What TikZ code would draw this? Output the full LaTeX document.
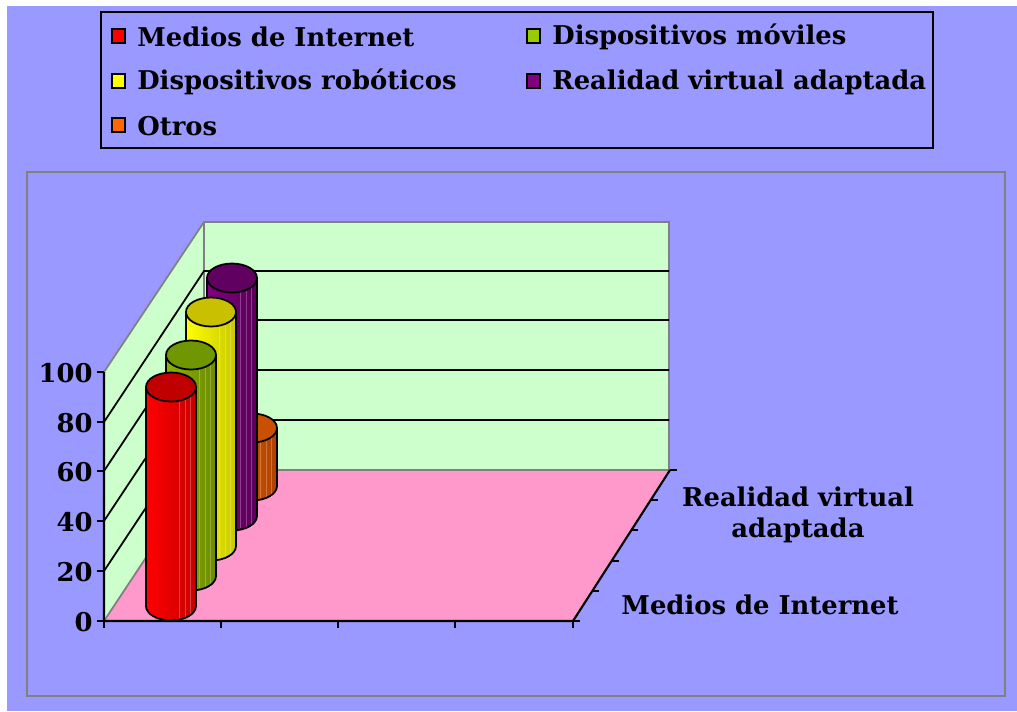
\documentclass[tikz,border=0pt]{standalone}
\usepackage{fontspec}
\setmainfont{DejaVu Serif}
\definecolor{bgblue}{HTML}{9999FF}
\definecolor{wallgreen}{HTML}{CCFFCC}
\definecolor{floorpink}{HTML}{FF99CC}
\definecolor{framegray}{HTML}{808080}
% series colours: legend, body left, body right, top
\definecolor{redL}{HTML}{FF0000}\definecolor{redA}{HTML}{FF0000}\definecolor{redB}{HTML}{C80000}\definecolor{redT}{HTML}{C00000}
\definecolor{greenL}{HTML}{99CC00}\definecolor{greenA}{HTML}{8CB000}\definecolor{greenB}{HTML}{6E8C00}\definecolor{greenT}{HTML}{709600}
\definecolor{yellowL}{HTML}{FFFF00}\definecolor{yellowA}{HTML}{FFFF00}\definecolor{yellowB}{HTML}{C8C800}\definecolor{yellowT}{HTML}{C8C000}
\definecolor{purpleL}{HTML}{800080}\definecolor{purpleA}{HTML}{800080}\definecolor{purpleB}{HTML}{5A005A}\definecolor{purpleT}{HTML}{600060}
\definecolor{orangeL}{HTML}{FF6600}\definecolor{orangeA}{HTML}{E06000}\definecolor{orangeB}{HTML}{B04000}\definecolor{orangeT}{HTML}{C85000}
\tikzset{
  lbl/.style={font=\fontsize{14.7}{18}\selectfont\bfseries, inner sep=0pt},
  legsq/.style={draw=black, line width=1pt},
  grid/.style={black, line width=1pt},
  edge/.style={framegray, line width=1pt}
}
% one column: center x, base y, top y, colour prefix
\newcommand{\colcyl}[4]{%
  \shade[left color=#4A, right color=#4B]
    (#1-25,#3) -- (#1-25,#2) arc[start angle=180, end angle=360, x radius=0.5cm, y radius=0.29cm]
    -- (#1+25,#3) -- cycle;
  \foreach \d in {8,14,19}
    \draw[white, opacity=0.25, line width=0.3pt] (#1+\d,#3) -- (#1+\d,#2+12);
  \draw[black, line width=1pt]
    (#1-25,#3) -- (#1-25,#2) arc[start angle=180, end angle=360, x radius=0.5cm, y radius=0.29cm]
    -- (#1+25,#3);
  \filldraw[fill=#4T, draw=black, line width=1pt] (#1,#3) ellipse [x radius=0.5cm, y radius=0.29cm];
}

\begin{document}
\begin{tikzpicture}[x=0.02cm, y=-0.02cm]
  % Background
  \fill[white] (0,0) rectangle (1017,711);
  \fill[bgblue] (7,6) rectangle (1017,711);
  \draw[framegray, line width=1.2pt] (27,172) rectangle (1005,696);

  % Legend
  \draw[black, line width=1.2pt] (101,12) rectangle (933,148);
  \filldraw[legsq, fill=redL] (112,29) rectangle (125,43);
  \node[lbl, anchor=west] (legA) at (137,37) {Medios de Internet};
  \filldraw[legsq, fill=greenL] (527,29) rectangle (540,43);
  \node[lbl, anchor=west] (legB) at (552,37) {Dispositivos móviles};
  \filldraw[legsq, fill=yellowL] (112,74) rectangle (125,88);
  \node[lbl, anchor=west] (legC) at (137,82) {Dispositivos robóticos};
  \filldraw[legsq, fill=purpleL] (527,74) rectangle (540,88);
  \node[lbl, anchor=west] (legD) at (552,82) {Realidad virtual adaptada};
  \filldraw[legsq, fill=orangeL] (112,118) rectangle (125,132);
  \node[lbl, anchor=west] (legE) at (137,126) {Otros};

  % Walls and floor
  \fill[wallgreen] (204,222) rectangle (669,470);
  \fill[wallgreen] (104,621) -- (204,470) -- (204,222) -- (104,372) -- cycle;
  \fill[floorpink] (104,621) -- (573,621) -- (669,470) -- (204,470) -- cycle;
  \draw[edge] (104,372) -- (204,222) -- (669,222) -- (669,470);
  \draw[edge] (204,222) -- (204,470) -- (669,470);
  \draw[edge] (104,621) -- (204,470);

  % Gridlines
  \foreach \g in {50,100,150,199}
  {
    \draw[grid] (104,621-\g) -- (204,470-\g) -- (669,470-\g);
  }

  % Columns (back to front)
  \colcyl{252}{486}{428}{orange}
  \colcyl{232}{516}{278}{purple}
  \colcyl{211}{546}{312}{yellow}
  \colcyl{191}{576}{355}{green}
  \colcyl{171}{606}{387}{red}

  % Axes
  \draw[black, line width=1.2pt] (104,372) -- (104,621) -- (573,621) -- (670,470);
  \foreach \t in {0,50,100,150,199,249}
    \draw[black, line width=1.2pt] (97,621-\t) -- (104,621-\t);
  \foreach \t in {104,221,338,455,573}
    \draw[black, line width=1.2pt] (\t,621) -- (\t,628);
  \foreach \i in {0,...,5}
    \draw[black, line width=1.2pt] (573+19.4*\i,621-30.2*\i) -- (580+19.4*\i,621-30.2*\i);

  % Value labels
  \node[lbl, anchor=east] (v0) at (93,622) {0};
  \node[lbl, anchor=east] (v20) at (93,572) {20};
  \node[lbl, anchor=east] (v40) at (93,522) {40};
  \node[lbl, anchor=east] (v60) at (93,472) {60};
  \node[lbl, anchor=east] (v80) at (93,423) {80};
  \node[lbl, anchor=east] (v100) at (93,373) {100};

  % Depth labels
  \node[lbl, align=center] (depthA) at (798,515) {Realidad virtual\\adaptada};
  \node[lbl] (depthB) at (760,605) {Medios de Internet};
\end{tikzpicture}
\end{document}
